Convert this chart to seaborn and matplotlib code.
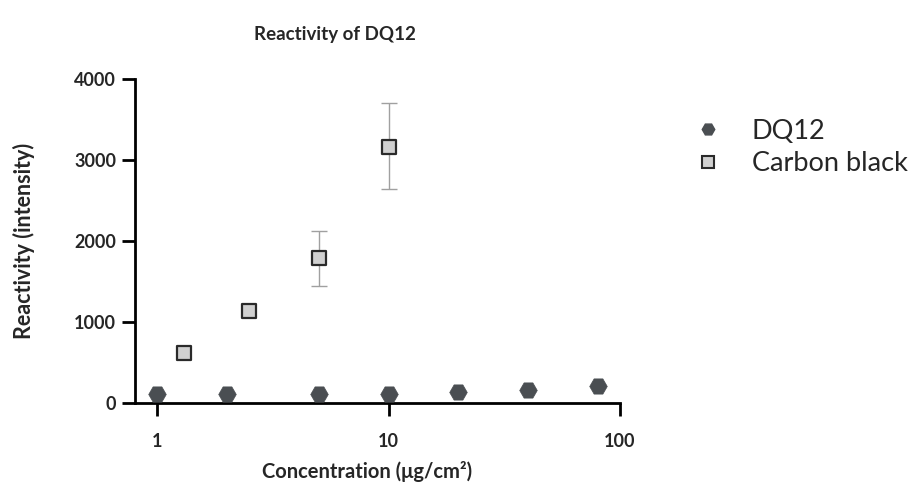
import matplotlib
matplotlib.use("Agg")
import matplotlib.pyplot as plt
from matplotlib.lines import Line2D
import seaborn as sns
import pandas as pd

# Data
dq12_conc = [1, 2, 5, 10, 20, 40, 80]
dq12_vals = [115, 115, 110, 115, 135, 160, 210]
cb_conc = [1.3, 2.5, 5, 10]
cb_vals = [620, 1140, 1790, 3165]
cb_err_low = [0, 0, 1445, 2640]
cb_err_high = [0, 0, 2120, 3700]
series_names = ["DQ12", "Carbon black"]
x_ticks = [1, 10, 100]
x_ticklabels = ["1", "10", "100"]
y_ticks = [0, 1000, 2000, 3000, 4000]

sns.set_style("white")
plt.rcParams["font.family"] = ["Lato", "DejaVu Sans"]

df_dq = pd.DataFrame({"conc": dq12_conc, "val": dq12_vals, "series": series_names[0]})
df_cb = pd.DataFrame({"conc": cb_conc, "val": cb_vals, "series": series_names[1]})

fig = plt.figure(figsize=(9.11, 4.95), dpi=100)
ax = fig.add_axes([135 / 911, 1 - 403 / 495, (620 - 135) / 911, (403 - 79) / 495])

# error bars for carbon black (only where present)
for c, v, lo, hi in zip(cb_conc, cb_vals, cb_err_low, cb_err_high):
    if hi > 0:
        ax.errorbar([c], [v], yerr=[[v - lo], [hi - v]], fmt="none",
                    ecolor="#a0a0a0", elinewidth=1.0, capsize=6, capthick=1.0, zorder=2)

sns.scatterplot(data=df_dq, x="conc", y="val", marker="H", s=160, color="#4a4e52",
                edgecolor="#4a4e52", linewidth=0.5, ax=ax, zorder=3, legend=False)
sns.scatterplot(data=df_cb, x="conc", y="val", marker="s", s=100, color="#d0d0d0",
                edgecolor="#2a2a2a", linewidth=1.6, ax=ax, zorder=4, legend=False)

ax.set_xscale("log")
ax.set_xlim(0.8, 100)
ax.set_ylim(0, 4000)
ax.set_xticks(x_ticks)
ax.set_xticklabels(x_ticklabels)
ax.xaxis.set_minor_locator(matplotlib.ticker.NullLocator())
ax.set_yticks(y_ticks)

for s in ["top", "right"]:
    ax.spines[s].set_visible(False)
for s in ["left", "bottom"]:
    ax.spines[s].set_linewidth(2.0)
    ax.spines[s].set_color("black")
    ax.spines[s].set_capstyle("projecting")

ax.tick_params(axis="both", which="major", length=9.5, width=2.0, color="black",
               labelsize=13, pad=4, direction="out", bottom=True, left=True)
ax.tick_params(axis="x", pad=12)
for lab in ax.get_xticklabels() + ax.get_yticklabels():
    lab.set_fontweight("bold")

ax.set_xlabel("Concentration (μg/cm²)", fontsize=14.5, fontweight="bold")
ax.xaxis.set_label_coords(0.478, -0.18)
ax.set_ylabel("Reactivity (intensity)", fontsize=15.5, fontweight="bold")
ax.yaxis.set_label_coords(-0.206, 0.5)
ax.set_title("Reactivity of DQ12", fontsize=13.5, fontweight="bold", pad=28, x=0.412)

handles = [
    Line2D([0], [0], marker="H", linestyle="none", markersize=9, color="#4a4e52",
           markeredgecolor="#4a4e52"),
    Line2D([0], [0], marker="s", linestyle="none", markersize=8, color="#d0d0d0",
           markeredgecolor="#2a2a2a", markeredgewidth=1.5),
]
fig.legend(handles, series_names, loc="upper left", bbox_to_anchor=(684 / 911, 1 - 108 / 495),
           frameon=False, fontsize=19.5, handletextpad=1.1, labelspacing=0.28,
           handlelength=1.0, borderaxespad=0)

fig.savefig("out.png", dpi=100, facecolor="white")
